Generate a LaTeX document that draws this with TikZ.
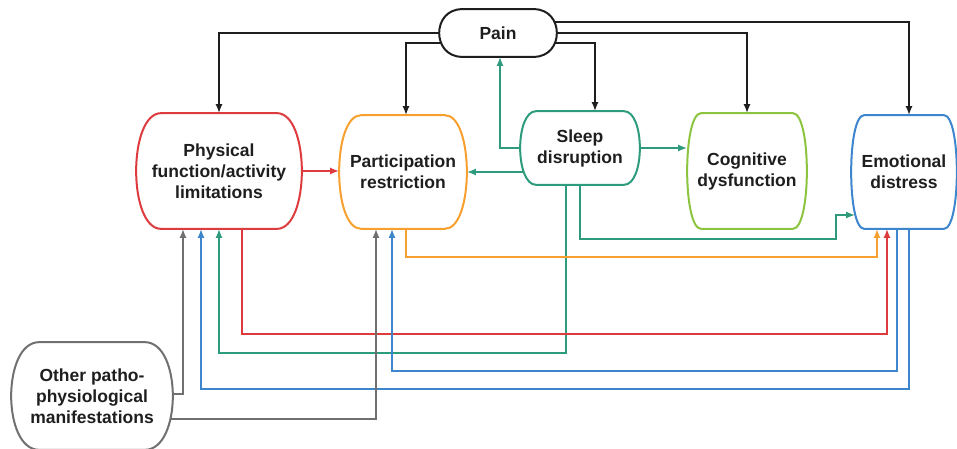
\documentclass[tikz,border=0pt]{standalone}
\usepackage{fontspec}
\setmainfont{Liberation Sans}
\usetikzlibrary{arrows.meta}

\definecolor{painblack}{HTML}{1E1E1E}
\definecolor{physred}{HTML}{DE3B3F}
\definecolor{partorange}{HTML}{F7A030}
\definecolor{sleepgreen}{HTML}{2E9B7C}
\definecolor{coggreen}{HTML}{8CC440}
\definecolor{emoblue}{HTML}{3D85CC}
\definecolor{othergrey}{HTML}{707070}

\begin{document}
\begin{tikzpicture}[x=1pt, y=-1pt, ->, >={Latex[length=9pt,width=7pt]}, line width=1.7pt]
    \tikzstyle{stage}=[inner sep=0pt, align=center, text=painblack, font=\bfseries\fontsize{17.5}{21}\selectfont]
    \tikzstyle{outline}=[-, line width=2pt, line join=round]

    \useasboundingbox (0,0) rectangle (957,449);

    % Draw the stage nodes
    \node[stage, minimum width=116pt, minimum height=46pt] (pain) at (498,33) {Pain};
    \node[stage, minimum width=164pt, minimum height=114pt] (phys) at (219,171) {Physical\\function/activity\\limitations};
    \node[stage, minimum width=126pt, minimum height=112pt] (part) at (403,172) {Participation\\restriction};
    \node[stage, minimum width=118pt, minimum height=72pt] (sleep) at (580,148) {Sleep\\disruption};
    \node[stage, minimum width=118pt, minimum height=114pt] (cog) at (747,171) {Cognitive\\dysfunction};
    \node[stage, minimum width=104pt, minimum height=112pt] (emo) at (904,172) {Emotional\\distress};
    \node[stage, minimum width=160pt, minimum height=106pt] (other) at (92,396) {Other patho-\\physiological\\manifestations};

    % Draw the outlines with bulging sides
    \foreach \n/\c/\d in {pain/painblack/23, phys/physred/25, part/partorange/22, sleep/sleepgreen/16,
                          cog/coggreen/14, emo/emoblue/13, other/othergrey/28}
      \draw[\c, outline] ([xshift=\d pt]\n.north west) -- ([xshift=-\d pt]\n.north east)
        .. controls +(1.333*\d pt,0) and +(1.333*\d pt,0) .. ([xshift=-\d pt]\n.south east)
        -- ([xshift=\d pt]\n.south west)
        .. controls +(-1.333*\d pt,0) and +(-1.333*\d pt,0) .. ([xshift=\d pt]\n.north west) -- cycle;

    % Draw the links from pain
    \draw[painblack] (pain.west) -| (phys.north);
    \draw[painblack] ([xshift=2pt,yshift=-10pt]pain.west) -| ([xshift=3pt]part.north);
    \draw[painblack] ([xshift=-3pt,yshift=11pt]pain.east) -| ([xshift=5pt]emo.north);
    \draw[painblack] (pain.east) -| (cog.north);
    \draw[painblack] ([xshift=-2pt,yshift=-10pt]pain.east) -| ([xshift=15pt]sleep.north);

    % Draw the links from sleep disruption
    \draw[sleepgreen] (sleep.west) -| ([xshift=2pt]pain.south);
    \draw[sleepgreen] ([xshift=4pt]sleep.west |- part.east) -- (part.east);
    \draw[sleepgreen] (sleep.east) -- (sleep.east -| cog.west);
    \draw[sleepgreen] (sleep.south) |- (836,239) |- ([xshift=4pt,yshift=-43pt]emo.west);
    \draw[sleepgreen] ([xshift=-14pt]sleep.south) |- (phys.south |- 0,353) -- (phys.south);

    % Draw the links from physical limitations and participation
    \draw[physred] (phys.east) -- (phys.east -| part.west);
    \draw[physred] ([xshift=23pt]phys.south) |- ([xshift=-17pt]emo.south |- 0,334) -- ([xshift=-17pt]emo.south);
    \draw[partorange] ([xshift=3pt]part.south) |- ([xshift=-27pt]emo.south |- 0,257) -- ([xshift=-27pt]emo.south);

    % Draw the links from emotional distress
    \draw[emoblue] ([xshift=-7pt]emo.south) |- ([xshift=-11pt]part.south |- 0,371) -- ([xshift=-11pt]part.south);
    \draw[emoblue] ([xshift=5pt]emo.south) |- ([xshift=-18pt]phys.south |- 0,389) -- ([xshift=-18pt]phys.south);

    % Draw the links from other manifestations
    \draw[othergrey] ([yshift=2pt]other.east) -| ([xshift=-36pt]phys.south);
    \draw[othergrey] ([xshift=-2pt,yshift=-23pt]other.east) -| ([xshift=-27pt]part.south);
\end{tikzpicture}
\end{document}
